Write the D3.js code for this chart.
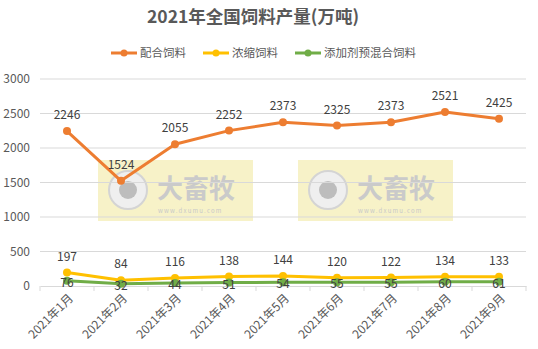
<!DOCTYPE html>
<html>
<head>
<meta charset="utf-8">
<script src="https://cdn.jsdelivr.net/npm/d3@7"></script>
<style>
  body { margin: 0; background: #fff; }
  text { font-family: "Microsoft YaHei", "Noto Sans CJK SC", sans-serif; }
</style>
</head>
<body>
<div id="chart"></div>
<script>
var months = ['2021年1月', '2021年2月', '2021年3月', '2021年4月', '2021年5月', '2021年6月', '2021年7月', '2021年8月', '2021年9月']
var peihe = [2246, 1524, 2055, 2252, 2373, 2325, 2373, 2521, 2425]
var nongsuo = [197, 84, 116, 138, 144, 120, 122, 134, 133]
var tianjia = [76, 32, 44, 51, 54, 55, 55, 60, 61]
var yTicks = [0, 500, 1000, 1500, 2000, 2500, 3000]
var seriesNames = ['配合饲料', '浓缩饲料', '添加剂预混合饲料']
var colors = ['#ED7D31', '#FFC000', '#70AD47']

var width = 538
var height = 349

var svg = d3.select('#chart')
  .append('svg')
  .attr('width', width)
  .attr('height', height)

var x = d3.scaleBand()
  .domain(months)
  .range([40, 526])

var y = d3.scaleLinear()
  .domain([0, 3000])
  .range([286, 79])

// watermark boxes
var marks = [{ x: 98, y: 160 }, { x: 298, y: 160 }]
marks.forEach(function (m) {
  var g = svg.append('g').attr('transform', 'translate(' + m.x + ',' + m.y + ')')
  g.append('rect')
    .attr('width', 155)
    .attr('height', 61)
    .attr('fill', '#F6F0BE')
    .attr('opacity', 0.85)
  g.append('circle')
    .attr('cx', 30).attr('cy', 30).attr('r', 19)
    .attr('fill', '#EFEFEF').attr('stroke', '#D4D4D4').attr('stroke-width', 2)
  g.append('circle')
    .attr('cx', 30).attr('cy', 30).attr('r', 9)
    .attr('fill', '#BDBDBD')
  g.append('text')
    .attr('x', 59).attr('y', 38)
    .attr('font-size', 26)
    .attr('font-weight', 'bold')
    .attr('fill', '#CACACA')
    .text('大畜牧')
  g.append('text')
    .attr('x', 60).attr('y', 53)
    .attr('font-size', 6)
    .attr('letter-spacing', 1.2)
    .attr('fill', '#C9C9C9')
    .text('www.dxumu.com')
})

// gridlines
svg.append('g')
  .selectAll('line')
  .data(yTicks.slice(1))
  .enter()
  .append('line')
  .attr('x1', 40)
  .attr('x2', 526)
  .attr('y1', function (d) { return y(d) })
  .attr('y2', function (d) { return y(d) })
  .attr('stroke', '#D9D9D9')

// y labels
svg.append('g')
  .selectAll('text')
  .data(yTicks)
  .enter()
  .append('text')
  .attr('x', 30)
  .attr('y', function (d) { return y(d) })
  .attr('dy', '.35em')
  .attr('text-anchor', 'end')
  .attr('font-size', 12)
  .attr('fill', '#595959')
  .text(function (d) { return d })

// x axis
var xAxis = d3.axisBottom(x).tickSize(0).tickFormat('')
svg.append('g')
  .attr('transform', 'translate(0,' + y(0) + ')')
  .call(xAxis)
  .call(function (g) {
    g.select('.domain').attr('stroke', '#D9D9D9')
  })

var bounds = months.map(function (m) { return x(m) }).concat([x.range()[1]])
svg.append('g')
  .selectAll('line')
  .data(bounds)
  .enter()
  .append('line')
  .attr('x1', function (d) { return d })
  .attr('x2', function (d) { return d })
  .attr('y1', y(0))
  .attr('y2', y(0) + 5)
  .attr('stroke', '#D9D9D9')

svg.append('g')
  .selectAll('text')
  .data(months)
  .enter()
  .append('text')
  .attr('transform', function (d) {
    return 'translate(' + (x(d) + x.bandwidth() / 2 + 4) + ',' + (y(0) + 10) + ') rotate(-45)'
  })
  .attr('text-anchor', 'end')
  .attr('dy', '.35em')
  .attr('font-size', 12)
  .attr('fill', '#595959')
  .text(function (d) { return d })

// lines
var all = [peihe, nongsuo, tianjia]
var line = d3.line()
  .x(function (d, i) { return x(months[i]) + x.bandwidth() / 2 })
  .y(function (d) { return y(d) })

all.forEach(function (vals, k) {
  svg.append('path')
    .datum(vals)
    .attr('d', line)
    .attr('fill', 'none')
    .attr('stroke', colors[k])
    .attr('stroke-width', 3)
    .attr('stroke-linejoin', 'round')
  svg.append('g')
    .selectAll('circle')
    .data(vals)
    .enter()
    .append('circle')
    .attr('cx', function (d, i) { return x(months[i]) + x.bandwidth() / 2 })
    .attr('cy', function (d) { return y(d) })
    .attr('r', 4)
    .attr('fill', colors[k])
})

// data labels
all.forEach(function (vals, k) {
  svg.append('g')
    .selectAll('text')
    .data(vals)
    .enter()
    .append('text')
    .attr('x', function (d, i) { return x(months[i]) + x.bandwidth() / 2 })
    .attr('y', function (d) { return k == 2 ? y(d) + 2 : y(d) - 16 })
    .attr('dy', '.35em')
    .attr('text-anchor', 'middle')
    .attr('font-size', 12)
    .attr('fill', '#404040')
    .text(function (d) { return d })
})

// title
svg.append('text')
  .attr('x', 253)
  .attr('y', 23)
  .attr('text-anchor', 'middle')
  .attr('font-size', 17.5)
  .attr('font-weight', 'bold')
  .attr('fill', '#595959')
  .text('2021年全国饲料产量(万吨)')

// legend
var legendX = [111, 203, 295]
var legend = svg.append('g')
  .selectAll('g')
  .data(seriesNames)
  .enter()
  .append('g')
  .attr('transform', function (d, i) { return 'translate(' + legendX[i] + ',53)' })

legend.append('line')
  .attr('x1', 0).attr('x2', 26)
  .attr('stroke', function (d, i) { return colors[i] })
  .attr('stroke-width', 3)
legend.append('circle')
  .attr('cx', 13).attr('r', 3.5)
  .attr('fill', function (d, i) { return colors[i] })
legend.append('text')
  .attr('x', 29)
  .attr('dy', '.35em')
  .attr('font-size', 11.5)
  .attr('fill', '#595959')
  .text(function (d) { return d })
</script>
</body>
</html>
